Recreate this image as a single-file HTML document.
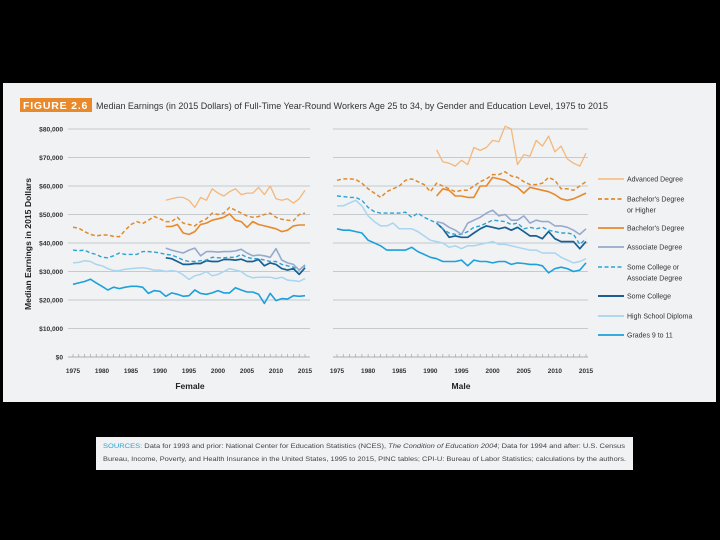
<!DOCTYPE html>
<html><head><meta charset="utf-8">
<style>
html,body{margin:0;padding:0;background:#000;width:720px;height:540px;overflow:hidden}
svg{display:block}
text{font-family:"Liberation Sans",sans-serif}
</style></head>
<body>
<svg id="chart" width="720" height="540" viewBox="0 0 720 540" xmlns="http://www.w3.org/2000/svg">
<rect x="0" y="0" width="720" height="540" fill="#000"/>
<rect x="3" y="83" width="713" height="319" fill="#f0f2f4"/>
<rect x="20" y="98" width="72" height="14" fill="#e8892b"/>
<text x="23" y="109" font-size="10.5" font-weight="bold" fill="#fff" letter-spacing="0.8">FIGURE 2.6</text>
<text x="96" y="109" font-size="9.3" fill="#333" textLength="512" lengthAdjust="spacingAndGlyphs">Median Earnings (in 2015 Dollars) of Full-Time Year-Round Workers Age 25 to 34, by Gender and Education Level, 1975 to 2015</text>
<text transform="translate(31,244) rotate(-90)" text-anchor="middle" font-size="8" font-weight="bold" fill="#222" textLength="132" lengthAdjust="spacingAndGlyphs">Median Earnings in 2015 Dollars</text>
<g id="grid"></g>
<g id="female"></g>
<g id="male"></g>
<g id="legend"></g>
<rect x="96" y="437" width="537" height="33" fill="#f0f2f4"/>
<text x="103" y="448" font-size="6.4" fill="#444" textLength="522" lengthAdjust="spacingAndGlyphs"><tspan fill="#2ba3d4">SOURCES:</tspan> Data for 1993 and prior: National Center for Education Statistics (NCES), <tspan font-style="italic">The Condition of Education 2004</tspan>; Data for 1994 and after: U.S. Census</text>
<text x="103" y="461" font-size="6.4" fill="#444" textLength="523" lengthAdjust="spacingAndGlyphs">Bureau, Income, Poverty, and Health Insurance in the United States, 1995 to 2015, PINC tables; CPI-U: Bureau of Labor Statistics; calculations by the authors.</text>
</svg>
<script>
const yTicks=[0,10,20,30,40,50,60,70,80];
const yTickLabels=["$0","$10,000","$20,000","$30,000","$40,000","$50,000","$60,000","$70,000","$80,000"];
const xTickLabels=["1975","1980","1985","1990","1995","2000","2005","2010","2015"];
const seriesNames=["Advanced Degree","Bachelor's Degree or Higher","Bachelor's Degree","Associate Degree","Some College or Associate Degree","Some College","High School Diploma","Grades 9 to 11"];
const seriesStart=[1991,1975,1991,1991,1975,1991,1975,1975];
const femaleAdv=[55,55.5,56,56,55,52.5,56,55,59,57.5,56.5,58,59,57,57.5,57.5,59.5,57,60,55.5,55,55.5,54,55.5,58.5];
const femaleBachPlus=[45.5,45.2,44,43,42.5,42.8,42.8,42.3,42.2,44.5,46.5,47.5,46.8,48,49.3,48.5,47.5,47.5,49,47,46.5,46,47.5,48.5,50.5,50,50.5,52.5,51.5,50.5,49.5,49,49.3,50,50.5,49,48.3,48,47.8,50,50.5];
const femaleBach=[45.8,45.8,46.5,43.5,43,44,46.5,47,48,48.5,49,50.2,48,47.5,45.5,47.5,46.5,46,45.5,45,44,44.5,46,46.3,46.3];
const femaleAssoc=[38.2,37.5,37,36.5,37.5,38.2,35.5,37,37,36.8,37,37,37.2,37.8,36.5,35.5,35.8,35.5,35,38,34,33,32.5,30.5,32.3];
const femaleSomeAssoc=[37.5,37.3,37.5,36.5,36,35,34.8,35.5,36.5,36,36,36,37,37,36.8,36.5,36,35.8,35,34,33.5,33.5,33.8,34,35,34.8,34.8,35,35,36,35,34.5,34.5,34,33.5,33.5,32.5,32,31.5,30.5,32];
const femaleSome=[34.8,34.5,33.5,32.5,32.5,32.8,32.8,33.8,33.5,33.5,34.2,34.2,34,34.3,33.5,33.5,34.2,32,33,32.5,31,30.5,31,29,31.3];
const femaleHS=[33,33.2,33.8,33.5,32.5,32,31,30.3,30.3,30.8,31,31.2,31.3,31,30.5,30.5,30,30.3,30,28.8,27.2,28.5,29,30,28.5,29,30,31,30.5,30,28.5,27.8,28,28,28,27.5,28,27,26.8,26.5,27.5];
const femaleGr=[25.5,26,26.5,27.3,26,24.8,23.5,24.5,24,24.5,24.8,24.8,24.5,22.3,23.3,23,21.3,22.5,22,21.3,21.5,23.5,22.3,22,22.5,23.3,22.5,22.5,24.3,23.5,22.8,22.8,22,18.8,22.3,19.8,20.5,20.3,21.5,21.3,21.5];
const maleAdv=[72.7,68.5,68,67,69,67.5,73.5,72.5,73.5,76,75.5,81,80,67.5,71,70.5,76,74,77.5,72,74,69.5,68,67,71.5];
const maleBachPlus=[62,62.5,62.5,62.3,61,59,57.5,56,58,59,60,62,62.5,61.5,60.5,58,61,60,59,58,58.5,58.5,60,61.5,62.5,64,64,65,63.5,63,61.5,60.5,60.5,61,63,62,59,59,58.5,60,61.5];
const maleBach=[56.5,59,58.5,56.5,56.5,56,56,60,60,63,62.5,62,60.5,59.5,57.5,59.5,59,58.5,58,57,55.5,55,55.5,56.5,57.5];
const maleAssoc=[47.5,47,45.5,44.5,43,47,48,49,50.5,51.5,49.5,50,48,48,49.5,47,48,47.5,47.5,46,46,45.5,44.5,43,45];
const maleSomeAssoc=[56.5,56.3,56,56,55,52.5,51,50.5,50.5,50.5,50.5,50.8,49,50.5,49,48,47,45,43.5,43,43,44,45.5,46,47,48,47.8,47.5,46.5,47,45,45.5,45,45.5,44.5,44,43.5,43.5,43,39.5,41.5];
const maleSome=[47,45,42,42.5,42,42,43.5,45,46,45.5,45,45.5,44.5,45.5,44,42.5,42.5,41.5,44,41.5,40.5,40.5,40.5,38,40.5];
const maleHS=[53,53,54,55,53,49.5,47.5,46,46,47,45,45,45,44,42.5,41,40.5,40,38.5,39,38,39,39,39.5,40,40.5,39.5,39.5,39,38.5,38,37.5,37.5,36.5,36.5,36.5,35,34,33,33.5,34.5];
const maleGr=[45,44.5,44.5,44,43.5,41,40,39,37.5,37.5,37.5,37.5,38.5,37,36,35,34.5,33.5,33.5,33.5,34,32,34,33.5,33.5,33,33.5,33.5,32.5,33,32.8,32.5,32.5,32,29.5,31,31.5,31,30,30.5,33];

const NS="http://www.w3.org/2000/svg";
const styles=[
 {c:"#f5b77a",w:1.3,d:null},{c:"#e08a2e",w:1.5,d:"4,2.5"},{c:"#e8892b",w:1.6,d:null},{c:"#97aacd",w:1.6,d:null},
 {c:"#2ba3d4",w:1.4,d:"4,2.5"},{c:"#1a5f91",w:1.7,d:null},{c:"#a9d5ef",w:1.5,d:null},{c:"#1da0dc",w:1.6,d:null}];
function yScale(v){return 357-v*(357-129)/80;}
function mk(tag,attrs,parent){const e=document.createElementNS(NS,tag);for(const k in attrs)e.setAttribute(k,attrs[k]);parent.appendChild(e);return e;}
const grid=document.getElementById('grid');
yTicks.forEach((t,i)=>{
  const y=yScale(t);
  const l=mk('text',{x:63,y:y+2.3,'text-anchor':'end','font-size':6.6,fill:'#333','font-weight':'bold'},grid);
  
  
  l.textContent=yTickLabels[i];
});
function panel(gid,x0,x1,gl0,gl1,data,label,lx){
  const g=document.getElementById(gid);
  const xs=yr=>x0+(yr-1975)*(x1-x0)/40;
  yTicks.forEach(t=>{
    if(t===0)return;
    const ln=mk('line',{x1:gl0,x2:gl1,y1:yScale(t),y2:yScale(t),stroke:'#b8bcc2','stroke-width':0.8},g);
    
    
  });
  const base=mk('line',{x1:gl0,x2:gl1,y1:357,y2:357,stroke:'#999','stroke-width':0.7},g);
  
  
  for(let yr=1975;yr<=2015;yr++){
    const tk=mk('line',{x1:xs(yr),x2:xs(yr),y1:354,y2:357,stroke:'#999','stroke-width':0.6},g);
    
    
  }
  xTickLabels.forEach(s=>{
    const t=mk('text',{x:xs(+s),y:373,'text-anchor':'middle','font-size':6.4,fill:'#333','font-weight':'bold'},g);
    
    
    t.textContent=s;
  });
  const pl=mk('text',{x:lx,y:389,'text-anchor':'middle','font-size':8.5,'font-weight':'bold',fill:'#222'},g);
  
  
  pl.textContent=label;
  for(let i=data.length-1;i>=0;i--){
    const arr=data[i],st=styles[i];
    const pts=arr.map((v,j)=>xs(seriesStart[i]+j).toFixed(1)+','+yScale(v).toFixed(1)).join(' ');
    const p=mk('polyline',{points:pts,fill:'none',stroke:st.c,'stroke-width':st.w,'stroke-linejoin':'round'},g);
    if(st.d)p.setAttribute('stroke-dasharray',st.d);
    
    
  }
}
panel('female',73,305,68,310,[femaleAdv,femaleBachPlus,femaleBach,femaleAssoc,femaleSomeAssoc,femaleSome,femaleHS,femaleGr],'Female',190);
panel('male',337,586,333,588,[maleAdv,maleBachPlus,maleBach,maleAssoc,maleSomeAssoc,maleSome,maleHS,maleGr],'Male',461);
const lg=document.getElementById('legend');
const legY=[179,199,228,247,267,296,316,335];
const legLines=[["Advanced Degree"],["Bachelor's Degree","or Higher"],["Bachelor's Degree"],["Associate Degree"],["Some College or","Associate Degree"],["Some College"],["High School Diploma"],["Grades 9 to 11"]];
legY.forEach((y,i)=>{
  const st=styles[i];
  const l=mk('line',{x1:598,x2:624,y1:y,y2:y,stroke:st.c,'stroke-width':st.w+0.2},lg);
  if(st.d)l.setAttribute('stroke-dasharray',st.d);
  
  
  legLines[i].forEach((s,k)=>{
    const t=mk('text',{x:627,y:y+2.4+k*11,'font-size':7,fill:'#333'},lg);
    
    
    t.textContent=s;
  });
});
</script>
</body></html>
